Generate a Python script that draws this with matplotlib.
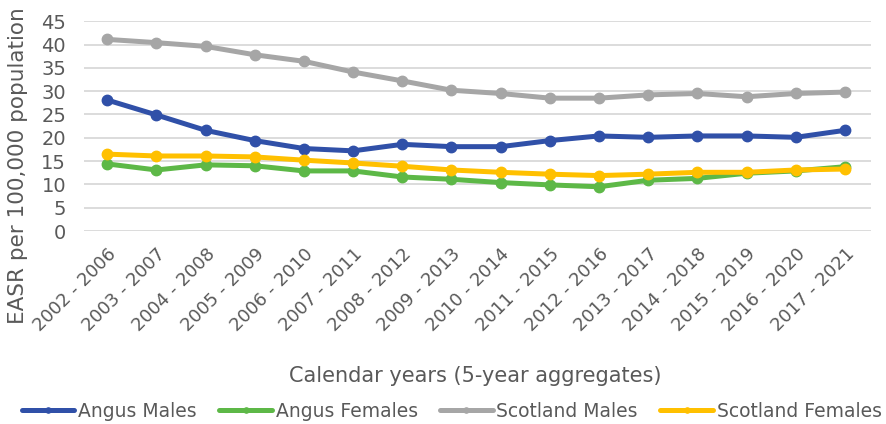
import matplotlib
matplotlib.use("Agg")
from matplotlib import pyplot as plt

# periodos de 5 años
periods = ["2002 - 2006", "2003 - 2007", "2004 - 2008", "2005 - 2009", "2006 - 2010",
           "2007 - 2011", "2008 - 2012", "2009 - 2013", "2010 - 2014", "2011 - 2015",
           "2012 - 2016", "2013 - 2017", "2014 - 2018", "2015 - 2019", "2016 - 2020",
           "2017 - 2021"]

angus_males = [28.1, 24.9, 21.6, 19.4, 17.7, 17.2, 18.6, 18.1, 18.1, 19.4, 20.4, 20.1, 20.4, 20.4, 20.1, 21.6]
angus_females = [14.4, 13.1, 14.2, 14.0, 12.9, 12.9, 11.6, 11.1, 10.4, 9.9, 9.5, 10.9, 11.3, 12.4, 12.9, 13.8]
scotland_males = [41.1, 40.4, 39.6, 37.8, 36.4, 34.1, 32.2, 30.2, 29.5, 28.5, 28.5, 29.2, 29.5, 28.8, 29.5, 29.8]
scotland_females = [16.5, 16.1, 16.1, 15.9, 15.2, 14.6, 13.9, 13.1, 12.6, 12.2, 11.9, 12.2, 12.6, 12.6, 13.1, 13.3]

plt.rcParams['font.family'] = ['DejaVu Sans']
txt = '#595959'

fig = plt.figure(figsize=(8.86, 4.24), dpi=100)
ax = fig.add_axes([0.095, 0.455, 0.888, 0.495])

x = range(len(periods))
series = [
    (angus_males, '#3050A8', 'Angus Males'),
    (angus_females, '#5DB847', 'Angus Females'),
    (scotland_males, '#A6A6A6', 'Scotland Males'),
    (scotland_females, '#FFC000', 'Scotland Females'),
]
for vals, col, lab in series:
    ax.plot(x, vals, color=col, lw=3.6, marker='o', ms=7.5, label=lab, solid_capstyle='round')

ax.set_xlim(-0.47, 15.53)
ax.set_ylim(0, 45)
ax.set_yticks(range(0, 46, 5))
ax.set_xticks(list(x))
ax.set_xticklabels(periods, rotation=45, ha='right', rotation_mode='anchor', fontsize=13, color=txt)
ax.tick_params(axis='y', labelsize=14, labelcolor=txt, length=0, pad=13)
ax.tick_params(axis='x', length=0, pad=10)
ax.grid(axis='y', color='#D9D9D9', lw=1.3)
ax.set_axisbelow(True)
for s in ax.spines.values():
    s.set_visible(False)

fig.text(0.02, 0.61, 'EASR per 100,000 population', rotation=90, ha='center', va='center',
         fontsize=15.5, color=txt)
fig.text(0.536, 0.113, 'Calendar years (5-year aggregates)', ha='center', va='center',
         fontsize=15, color=txt)

ax.legend(loc='center', bbox_to_anchor=(0.51, 0.03), bbox_transform=fig.transFigure, ncol=4,
          frameon=False, fontsize=13.5, labelcolor=txt, handlelength=2.8, handletextpad=0.2,
          columnspacing=1.2, markerscale=0.5, borderaxespad=0, borderpad=0)

fig.savefig('out.png', dpi=100)
